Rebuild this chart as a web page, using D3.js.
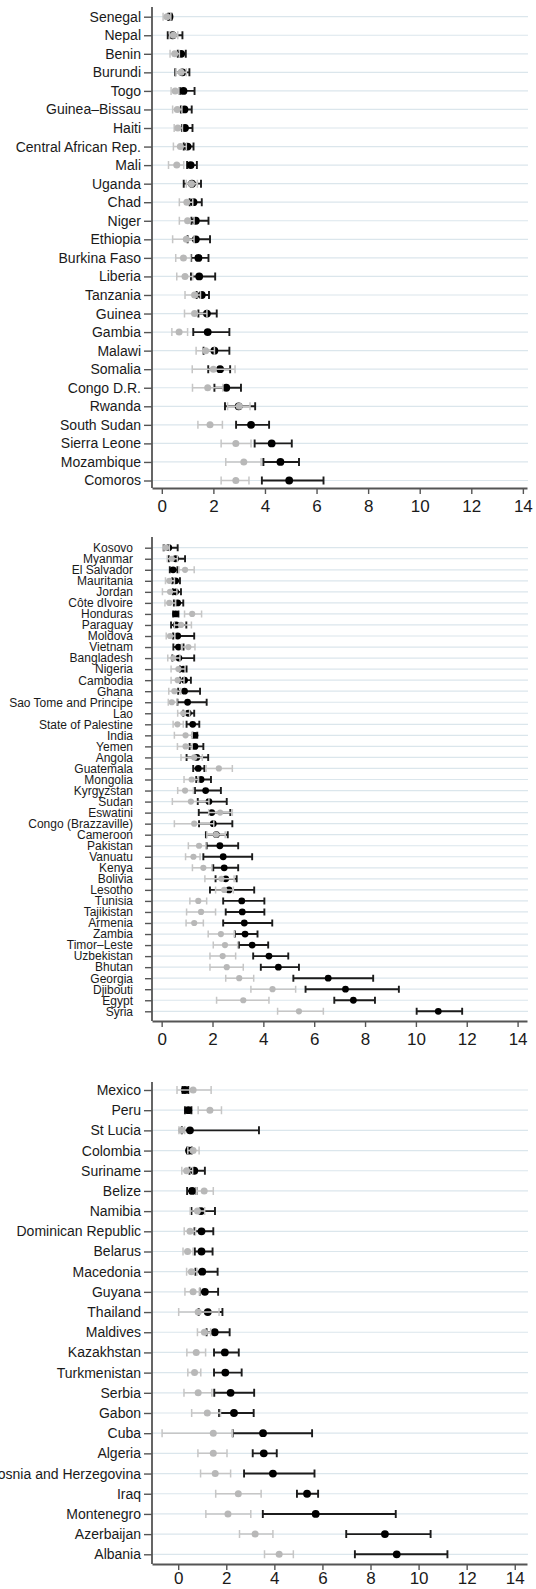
<!DOCTYPE html>
<html>
<head>
<meta charset="utf-8">
<script src="https://cdn.jsdelivr.net/npm/d3@7"></script>
<style>
  body { margin: 0; background: #fff; }
  svg { display: block; font-family: "Liberation Sans", Arial, Helvetica, sans-serif; }
</style>
</head>
<body>
<div id="chart"></div>
<script>
// Panel 1
const countries1 = ["Senegal", "Nepal", "Benin", "Burundi", "Togo", "Guinea\u2013Bissau", "Haiti", "Central African Rep.", "Mali", "Uganda", "Chad", "Niger", "Ethiopia", "Burkina Faso", "Liberia", "Tanzania", "Guinea", "Gambia", "Malawi", "Somalia", "Congo D.R.", "Rwanda", "South Sudan", "Sierra Leone", "Mozambique", "Comoros"];
const grayMean1 = [0.2, 0.45, 0.5, 0.75, 0.52, 0.6, 0.62, 0.72, 0.58, 1.15, 0.97, 1.0, 0.95, 0.84, 0.9, 1.27, 1.27, 0.67, 1.7, 2.0, 1.78, 3.0, 1.87, 2.87, 3.18, 2.87];
const grayLo1 = [0.05, 0.3, 0.32, 0.55, 0.36, 0.42, 0.48, 0.45, 0.26, 0.95, 0.68, 0.68, 0.42, 0.54, 0.58, 0.9, 0.88, 0.39, 1.33, 1.18, 1.19, 2.55, 1.4, 2.3, 2.48, 2.3];
const grayHi1 = [0.35, 0.62, 0.68, 0.95, 0.66, 0.78, 0.8, 0.95, 0.85, 1.38, 1.2, 1.25, 1.25, 1.12, 1.2, 1.5, 1.75, 1.0, 2.04, 2.84, 2.37, 3.42, 2.35, 3.46, 3.85, 3.38];
const blackMean1 = [0.3, 0.42, 0.75, 0.8, 0.84, 0.88, 0.9, 1.0, 1.12, 1.17, 1.23, 1.32, 1.32, 1.42, 1.45, 1.55, 1.75, 1.78, 2.04, 2.26, 2.5, 2.98, 3.46, 4.26, 4.6, 4.94];
const blackLo1 = [0.25, 0.23, 0.62, 0.52, 0.7, 0.74, 0.78, 0.85, 0.98, 0.85, 1.08, 1.15, 1.0, 1.14, 1.13, 1.35, 1.42, 1.22, 1.62, 1.8, 2.04, 2.45, 2.88, 3.6, 3.94, 3.88];
const blackHi1 = [0.38, 0.8, 0.93, 1.07, 1.27, 1.16, 1.19, 1.23, 1.36, 1.52, 1.55, 1.81, 1.87, 1.81, 2.07, 1.83, 2.13, 2.62, 2.62, 2.65, 3.07, 3.62, 4.16, 5.04, 5.32, 6.27];

// Panel 2
const countries2 = ["Kosovo", "Myanmar", "El Salvador", "Mauritania", "Jordan", "C\u00f4te dIvoire", "Honduras", "Paraguay", "Moldova", "Vietnam", "Bangladesh", "Nigeria", "Cambodia", "Ghana", "Sao Tome and Principe", "Lao", "State of Palestine", "India", "Yemen", "Angola", "Guatemala", "Mongolia", "Kyrgyzstan", "Sudan", "Eswatini", "Congo (Brazzaville)", "Cameroon", "Pakistan", "Vanuatu", "Kenya", "Bolivia", "Lesotho", "Tunisia", "Tajikistan", "Armenia", "Zambia", "Timor\u2013Leste", "Uzbekistan", "Bhutan", "Georgia", "Djibouti", "Egypt", "Syria"];
const grayMean2 = [0.17, 0.4, 0.92, 0.3, 0.33, 0.3, 1.2, 0.76, 0.33, 1.05, 0.46, 0.66, 0.63, 0.5, 0.4, 0.85, 0.62, 0.94, 0.94, 1.28, 2.25, 1.18, 0.92, 1.15, 2.3, 1.28, 2.14, 1.47, 1.25, 1.64, 2.35, 2.46, 1.44, 1.55, 1.28, 2.33, 2.49, 2.4, 2.56, 3.05, 4.36, 3.21, 5.4];
const grayLo2 = [0.05, 0.22, 0.68, 0.15, 0.03, 0.13, 0.9, 0.5, 0.18, 0.78, 0.24, 0.37, 0.37, 0.28, 0.26, 0.63, 0.45, 0.5, 0.62, 0.76, 1.75, 0.88, 0.63, 0.42, 1.85, 0.5, 1.78, 1.05, 0.94, 1.21, 1.7, 2.12, 1.11, 0.98, 0.96, 1.83, 2.03, 1.9, 1.9, 2.52, 3.51, 2.16, 4.56];
const grayHi2 = [0.3, 0.62, 1.28, 0.5, 0.6, 0.55, 1.57, 1.17, 0.52, 1.31, 0.72, 0.92, 0.88, 0.75, 0.6, 1.1, 0.85, 1.2, 1.2, 1.6, 2.78, 1.45, 1.25, 1.86, 2.78, 2.05, 2.5, 1.74, 1.51, 1.97, 2.85, 2.82, 1.77, 2.12, 1.64, 2.86, 2.99, 2.91, 3.21, 3.62, 5.27, 4.22, 6.36];
const blackMean2 = [0.28, 0.55, 0.45, 0.55, 0.55, 0.63, 0.55, 0.57, 0.63, 0.66, 0.68, 0.85, 0.9, 0.9, 1.02, 1.05, 1.22, 1.31, 1.31, 1.38, 1.44, 1.55, 1.73, 1.86, 1.97, 2.03, 2.15, 2.29, 2.42, 2.46, 2.52, 2.65, 3.15, 3.17, 3.25, 3.28, 3.56, 4.22, 4.59, 6.55, 7.23, 7.54, 10.88];
const blackLo2 = [0.08, 0.28, 0.32, 0.42, 0.44, 0.48, 0.45, 0.37, 0.45, 0.46, 0.42, 0.72, 0.72, 0.65, 0.62, 0.85, 0.98, 1.22, 1.1, 0.98, 1.24, 1.36, 1.31, 1.42, 1.46, 1.47, 1.74, 1.77, 1.64, 2.03, 2.12, 1.9, 2.42, 2.52, 2.42, 2.88, 3.04, 3.6, 3.9, 5.18, 5.66, 6.79, 10.03];
const blackHi2 = [0.63, 0.92, 0.62, 0.72, 0.76, 0.85, 0.66, 0.97, 1.28, 0.86, 1.28, 0.98, 1.15, 1.51, 1.77, 1.28, 1.48, 1.4, 1.64, 1.83, 1.68, 1.94, 2.33, 2.56, 2.7, 2.78, 2.6, 3.01, 3.56, 3.01, 2.95, 3.64, 4.04, 4.04, 4.35, 3.77, 4.19, 4.98, 5.4, 8.32, 9.33, 8.39, 11.82];

// Panel 3
const countries3 = ["Mexico", "Peru", "St Lucia", "Colombia", "Suriname", "Belize", "Namibia", "Dominican Republic", "Belarus", "Macedonia", "Guyana", "Thailand", "Maldives", "Kazakhstan", "Turkmenistan", "Serbia", "Gabon", "Cuba", "Algeria", "Bosnia and Herzegovina", "Iraq", "Montenegro", "Azerbaijan", "Albania"];
const grayMean3 = [0.62, 1.32, 0.14, 0.62, 0.35, 1.08, 0.8, 0.49, 0.39, 0.55, 0.62, 0.83, 1.09, 0.75, 0.68, 0.83, 1.21, 1.46, 1.46, 1.54, 2.5, 2.07, 3.2, 4.2];
const grayLo3 = [-0.05, 0.83, 0.03, 0.4, 0.15, 0.76, 0.5, 0.25, 0.2, 0.35, 0.28, 0.02, 0.8, 0.36, 0.4, 0.24, 0.56, -0.67, 0.82, 0.93, 1.56, 1.15, 2.55, 3.59];
const grayHi3 = [1.37, 1.8, 0.27, 0.87, 0.6, 1.46, 1.1, 0.72, 0.62, 0.78, 0.9, 1.7, 1.35, 1.14, 0.94, 1.4, 1.76, 2.26, 2.03, 2.18, 3.45, 3.02, 3.94, 4.79];
const blackMean3 = [0.28, 0.42, 0.49, 0.45, 0.67, 0.58, 0.95, 0.97, 0.97, 1.0, 1.11, 1.23, 1.52, 1.94, 1.96, 2.18, 2.32, 3.53, 3.56, 3.94, 5.36, 5.72, 8.6, 9.09];
const blackLo3 = [0.18, 0.28, 0.15, 0.38, 0.47, 0.37, 0.55, 0.68, 0.69, 0.72, 0.9, 0.85, 1.18, 1.49, 1.49, 1.5, 1.7, 2.27, 3.1, 2.74, 4.94, 3.52, 6.99, 7.35];
const blackHi3 = [0.42, 0.55, 3.36, 0.56, 1.11, 0.76, 1.53, 1.46, 1.43, 1.64, 1.66, 1.84, 2.14, 2.52, 2.64, 3.16, 3.14, 5.57, 4.1, 5.67, 5.82, 9.05, 10.5, 11.2];

const xTicks = [0, 2, 4, 6, 8, 10, 12, 14];

const width = 536;
const height = 1589;

const svg = d3.select("#chart")
  .append("svg")
  .attr("width", width)
  .attr("height", height);

// builds the rows of one panel from its arrays
function rowsOf(names, gm, gl, gh, bm, bl, bh) {
  return names.map((n, i) => ({
    name: n,
    g: gm[i], gLo: gl[i], gHi: gh[i],
    b: bm[i], bLo: bl[i], bHi: bh[i]
  }));
}

function drawPanel(rows, cfg) {
  const g = svg.append("g");

  const x = d3.scaleLinear().domain(cfg.xDomain).range([152, 527]);
  const y = d3.scalePoint().domain(rows.map(d => d.name)).range([cfg.yFirst, cfg.yLast]);

  // grid lines
  g.selectAll(".grid")
    .data(rows)
    .enter().append("line")
    .attr("x1", 152).attr("x2", 528)
    .attr("y1", d => y(d.name)).attr("y2", d => y(d.name))
    .attr("stroke", "#dbe6ec")
    .attr("stroke-width", 1.2);

  // y axis
  const yAxis = g.append("g")
    .attr("transform", "translate(152,0)")
    .call(d3.axisLeft(y).tickSize(cfg.tickLen).tickSizeOuter(0).tickPadding(cfg.pad));
  yAxis.select(".domain").remove();
  yAxis.selectAll(".tick line").attr("stroke", "#555").attr("stroke-width", 1.4);
  yAxis.selectAll(".tick text")
    .attr("fill", "#1a1a1a")
    .style("font-size", cfg.labelSize + "px")
    .style("font-family", "'Liberation Sans', Arial, sans-serif");

  g.append("line")
    .attr("x1", 152).attr("x2", 152)
    .attr("y1", cfg.axisTop).attr("y2", cfg.axisBottom)
    .attr("stroke", "#555").attr("stroke-width", 1.8);

  // x axis
  const xAxis = g.append("g")
    .attr("transform", `translate(0,${cfg.axisBottom})`)
    .call(d3.axisBottom(x).tickValues(xTicks).tickSize(6).tickSizeOuter(0).tickPadding(cfg.xPad));
  xAxis.select(".domain").attr("stroke", "#555").attr("stroke-width", 1.8);
  xAxis.selectAll(".tick line").attr("stroke", "#555").attr("stroke-width", 1.4);
  xAxis.selectAll(".tick text")
    .attr("fill", "#1a1a1a")
    .style("font-size", "17px")
    .style("font-family", "'Liberation Sans', Arial, sans-serif");

  const c = cfg.cap;

  // black intervals and points (drawn first, gray sits on top)
  const black = g.append("g");
  black.selectAll(".bci")
    .data(rows)
    .enter().append("path")
    .attr("d", d => {
      const yy = y(d.name), a = x(d.bLo), b = x(d.bHi);
      return `M${a},${yy}H${b}M${a},${yy - c}V${yy + c}M${b},${yy - c}V${yy + c}`;
    })
    .attr("fill", "none")
    .attr("stroke", "#1c1c1c")
    .attr("stroke-width", 1.9);
  black.selectAll(".bdot")
    .data(rows)
    .enter().append("circle")
    .attr("cx", d => x(d.b))
    .attr("cy", d => y(d.name))
    .attr("r", cfg.rBlack)
    .attr("fill", "#000");

  const gray = g.append("g");
  gray.selectAll(".gci")
    .data(rows)
    .enter().append("path")
    .attr("d", d => {
      const yy = y(d.name), a = x(d.gLo), b = x(d.gHi);
      return `M${a},${yy}H${b}M${a},${yy - c}V${yy + c}M${b},${yy - c}V${yy + c}`;
    })
    .attr("fill", "none")
    .attr("stroke", "#c6c6c6")
    .attr("stroke-width", 1.5);
  gray.selectAll(".gdot")
    .data(rows)
    .enter().append("circle")
    .attr("cx", d => x(d.g))
    .attr("cy", d => y(d.name))
    .attr("r", cfg.rGray)
    .attr("fill", "#b8b8b8");
}

drawPanel(rowsOf(countries1, grayMean1, grayLo1, grayHi1, blackMean1, blackLo1, blackHi1), {
  xDomain: [-0.38, 14.16], yFirst: 16.7, yLast: 480.5, axisTop: 7, axisBottom: 488,
  tickLen: 8, pad: 3, labelSize: 14, cap: 4, rBlack: 3.9, rGray: 3.5, xPad: 6
});

drawPanel(rowsOf(countries2, grayMean2, grayLo2, grayHi2, blackMean2, blackLo2, blackHi2), {
  xDomain: [-0.38, 14.37], yFirst: 547.7, yLast: 1011.3, axisTop: 537, axisBottom: 1021,
  tickLen: 7, pad: 12, labelSize: 12, cap: 3.5, rBlack: 3.4, rGray: 3.1, xPad: 6
});

drawPanel(rowsOf(countries3, grayMean3, grayLo3, grayHi3, blackMean3, blackLo3, blackHi3), {
  xDomain: [-1.09, 14.51], yFirst: 1090, yLast: 1554.3, axisTop: 1082, axisBottom: 1564,
  tickLen: 8, pad: 3, labelSize: 14, cap: 4, rBlack: 3.9, rGray: 3.5, xPad: 2
});
</script>
</body>
</html>
